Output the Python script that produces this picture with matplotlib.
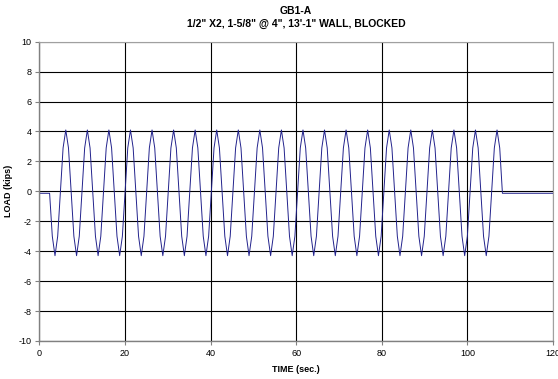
#!/usr/bin/env python3
"""
Cyclic load history for wall GB1-A (load vs time).
"""

import numpy as np
import matplotlib.pyplot as plt

plt.rcParams['font.family'] = ['Liberation Sans', 'DejaVu Sans']

# =============================================================================
# DATA
# =============================================================================
time_s = [
    0.00, 2.41, 3.04,
    3.67, 4.30, 4.93, 5.56, 6.19, 6.82, 7.45, 8.08,
    8.71, 9.34, 9.97, 10.60, 11.23, 11.86, 12.49, 13.12,
    13.74, 14.37, 15.00, 15.63, 16.26, 16.89, 17.52, 18.15,
    18.78, 19.41, 20.04, 20.67, 21.30, 21.93, 22.56, 23.19,
    23.82, 24.45, 25.08, 25.71, 26.34, 26.97, 27.60, 28.23,
    28.86, 29.49, 30.12, 30.75, 31.38, 32.01, 32.64, 33.27,
    33.89, 34.52, 35.15, 35.78, 36.41, 37.04, 37.67, 38.30,
    38.93, 39.56, 40.19, 40.82, 41.45, 42.08, 42.71, 43.34,
    43.97, 44.60, 45.23, 45.86, 46.49, 47.12, 47.75, 48.38,
    49.00, 49.63, 50.26, 50.89, 51.52, 52.15, 52.78, 53.41,
    54.04, 54.67, 55.30, 55.93, 56.56, 57.19, 57.82, 58.45,
    59.08, 59.71, 60.34, 60.97, 61.60, 62.23, 62.86, 63.49,
    64.11, 64.74, 65.37, 66.00, 66.63, 67.26, 67.89, 68.52,
    69.15, 69.78, 70.41, 71.04, 71.67, 72.30, 72.93, 73.56,
    74.19, 74.82, 75.45, 76.08, 76.71, 77.34, 77.97, 78.60,
    79.23, 79.86, 80.49, 81.12, 81.75, 82.38, 83.01, 83.64,
    84.26, 84.89, 85.52, 86.15, 86.78, 87.41, 88.04, 88.67,
    89.30, 89.93, 90.56, 91.19, 91.82, 92.45, 93.08, 93.71,
    94.34, 94.97, 95.60, 96.23, 96.86, 97.49, 98.12, 98.75,
    99.37, 100.00, 100.63, 101.26, 101.89, 102.52, 103.15, 103.78,
    104.41, 105.04, 105.67, 106.30, 106.93, 107.56, 108.19,
    120.00,
]

load_kips = [
    -0.13, -0.13, -3.0,
    -4.3, -3.0, -0.1, 2.9, 4.1, 2.9, -0.1, -3.0,
    -4.3, -3.0, -0.1, 2.9, 4.1, 2.9, -0.1, -3.0,
    -4.3, -3.0, -0.1, 2.9, 4.1, 2.9, -0.1, -3.0,
    -4.3, -3.0, -0.1, 2.9, 4.1, 2.9, -0.1, -3.0,
    -4.3, -3.0, -0.1, 2.9, 4.1, 2.9, -0.1, -3.0,
    -4.3, -3.0, -0.1, 2.9, 4.1, 2.9, -0.1, -3.0,
    -4.3, -3.0, -0.1, 2.9, 4.1, 2.9, -0.1, -3.0,
    -4.3, -3.0, -0.1, 2.9, 4.1, 2.9, -0.1, -3.0,
    -4.3, -3.0, -0.1, 2.9, 4.1, 2.9, -0.1, -3.0,
    -4.3, -3.0, -0.1, 2.9, 4.1, 2.9, -0.1, -3.0,
    -4.3, -3.0, -0.1, 2.9, 4.1, 2.9, -0.1, -3.0,
    -4.3, -3.0, -0.1, 2.9, 4.1, 2.9, -0.1, -3.0,
    -4.3, -3.0, -0.1, 2.9, 4.1, 2.9, -0.1, -3.0,
    -4.3, -3.0, -0.1, 2.9, 4.1, 2.9, -0.1, -3.0,
    -4.3, -3.0, -0.1, 2.9, 4.1, 2.9, -0.1, -3.0,
    -4.3, -3.0, -0.1, 2.9, 4.1, 2.9, -0.1, -3.0,
    -4.3, -3.0, -0.1, 2.9, 4.1, 2.9, -0.1, -3.0,
    -4.3, -3.0, -0.1, 2.9, 4.1, 2.9, -0.1, -3.0,
    -4.3, -3.0, -0.1, 2.9, 4.1, 2.9, -0.1, -3.0,
    -4.3, -3.0, -0.1, 2.9, 4.1, 2.9, -0.1, -3.0,
    -4.3, -3.0, -0.1, 2.9, 4.1, 2.9, -0.13,
    -0.13,
]

x_ticks = [0, 20, 40, 60, 80, 100, 120]
y_ticks = [-10, -8, -6, -4, -2, 0, 2, 4, 6, 8, 10]

# =============================================================================
# PLOT
# =============================================================================
fig = plt.figure(figsize=(5.58, 3.79), dpi=100)
ax = fig.add_axes([0.0704, 0.1003, 0.9206, 0.7897])

ax.plot(time_s, load_kips, color='#22228c', linewidth=0.7)

ax.set_xlim(0, 120)
ax.set_ylim(-10, 10)
ax.set_xticks(x_ticks)
ax.set_yticks(y_ticks)
ax.set_xticklabels([str(v) for v in x_ticks])
ax.set_yticklabels([str(v) for v in y_ticks])

ax.grid(True, color='black', linewidth=0.8)
ax.set_axisbelow(True)
for side in ['left', 'bottom']:
    ax.spines[side].set_color('#808080')
    ax.spines[side].set_linewidth(1.0)
for side in ['top', 'right']:
    ax.spines[side].set_color('#a0a0a0')
    ax.spines[side].set_linewidth(0.8)

ax.tick_params(axis='both', direction='out', length=3, width=0.8,
               color='#808080', labelsize=6.5, pad=2.5)

ax.set_xlabel('TIME (sec.)', fontsize=6.5, fontweight='bold', labelpad=5)
ax.set_ylabel('LOAD (kips)', fontsize=6.5, fontweight='bold', labelpad=4)
ax.set_title('GB1-A\n1/2" X2, 1-5/8" @ 4", 13\'-1" WALL, BLOCKED',
             fontsize=7.5, fontweight='bold', pad=11, linespacing=1.3)

plt.savefig('out.png', dpi=100)
